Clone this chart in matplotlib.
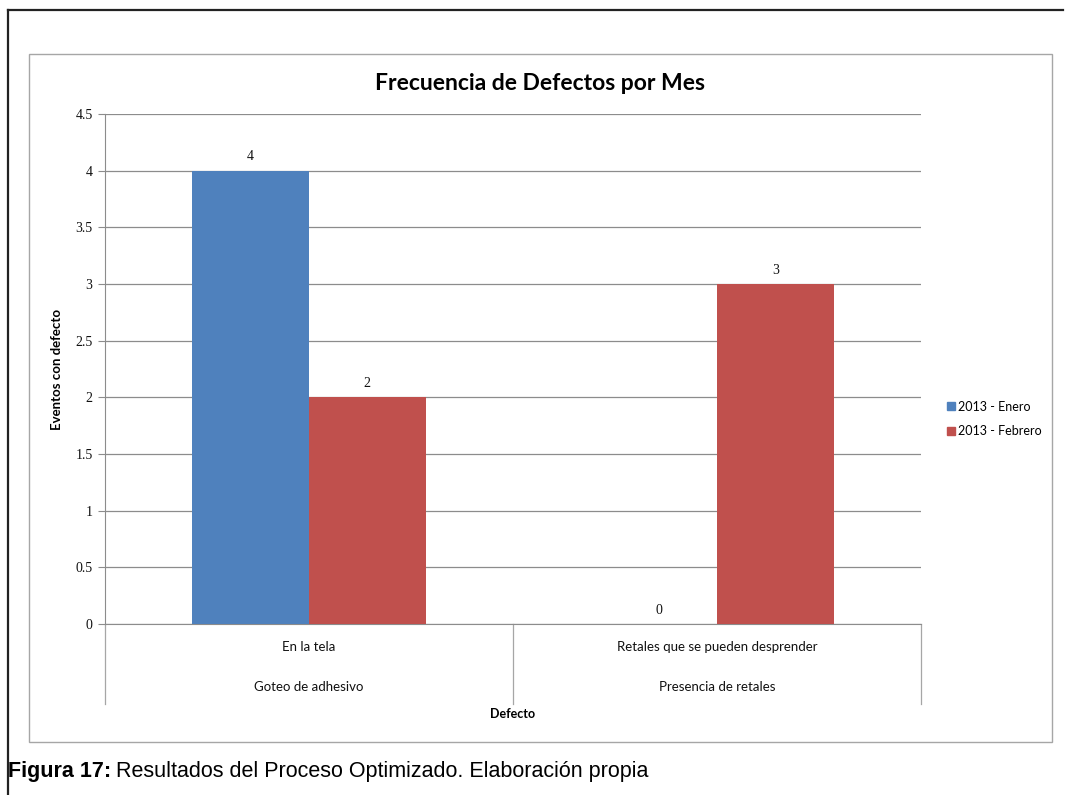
#!/usr/bin/env python3
"""Frecuencia de defectos por mes: barras agrupadas con eje de categorías en dos niveles."""

import matplotlib

matplotlib.use("Agg")
import matplotlib.pyplot as plt
import numpy as np
from matplotlib.lines import Line2D
from matplotlib.patches import Patch, Rectangle

# datos
defectos = ["En la tela", "Retales que se pueden desprender"]
grupos = ["Goteo de adhesivo", "Presencia de retales"]
series = ["2013 - Enero", "2013 - Febrero"]
enero = [4, 0]
febrero = [2, 3]
y_ticks = [0, 0.5, 1, 1.5, 2, 2.5, 3, 3.5, 4, 4.5]

BLUE = "#4F81BD"
RED = "#C0504D"
GRID = "#8c8c8c"
SANS = ["Lato", "DejaVu Sans"]
SERIF = ["Liberation Serif", "DejaVu Serif"]

W, H = 1065, 795
fig = plt.figure(figsize=(W / 100, H / 100), dpi=100)


def fx(px):
    return px / W


def fy(py):
    return 1 - py / H


# marco exterior (solo izquierda y arriba) y borde gris del gráfico
fig.add_artist(Line2D([fx(8), fx(8)], [fy(10), 0], color="#222222", lw=1.6,
                      transform=fig.transFigure))
fig.add_artist(Line2D([fx(8), fx(1063)], [fy(10), fy(10)], color="#222222", lw=1.6,
                      transform=fig.transFigure))
fig.add_artist(Rectangle((fx(29), fy(742)), fx(1052) - fx(29), fy(54) - fy(742),
                         fill=False, edgecolor="#a6a6a6", lw=1.0,
                         transform=fig.transFigure))

ax = fig.add_axes([fx(105), fy(624), fx(921) - fx(105), fy(114) - fy(624)])

x = np.arange(len(defectos))
w = 1 / 3.5
b1 = ax.bar(x - w / 2, enero, w, color=BLUE, zorder=3)
b2 = ax.bar(x + w / 2, febrero, w, color=RED, zorder=3)

for bars, vals in ((b1, enero), (b2, febrero)):
    for rect, v in zip(bars, vals):
        ax.annotate(f"{v:g}", (rect.get_x() + rect.get_width() / 2, v),
                    xytext=(0, 14), textcoords="offset pixels", ha="center",
                    va="center", fontsize=10, family=SERIF, color="#111111")

ax.set_xlim(-0.5, len(defectos) - 0.5)
ax.set_ylim(0, 4.5)
ax.set_yticks(y_ticks)
ax.set_yticklabels([f"{t:g}" for t in y_ticks], family=SERIF, fontsize=10,
                   color="#111111")
ax.tick_params(axis="y", length=5, width=0.8, color=GRID, pad=4)
ax.set_xticks([])
ax.grid(axis="y", color=GRID, lw=0.9, zorder=0)

for side in ("top", "right"):
    ax.spines[side].set_visible(False)
ax.spines["left"].set_color(GRID)
ax.spines["bottom"].set_color(GRID)
ax.spines["left"].set_bounds(0, 4.5)

# eje de categorías en dos niveles
tr = ax.get_xaxis_transform()
for xd in (-0.5, 0.5, 1.5):
    ax.add_line(Line2D([xd, xd], [0, -0.157], color="#a6a6a6", lw=0.9,
                       transform=tr, clip_on=False))
for xi, (d, g) in enumerate(zip(defectos, grupos)):
    ax.text(xi, -0.045, d, transform=tr, ha="center", va="center",
            fontsize=9.5, family=SANS, color="#111111")
    ax.text(xi, -0.123, g, transform=tr, ha="center", va="center",
            fontsize=9.5, family=SANS, color="#111111")

ax.text(0.5, -0.177, "Defecto", transform=ax.transAxes, ha="center", va="center",
        fontsize=9, family=SANS, weight="bold")
fig.text(fx(57), fy(369), "Eventos con defecto", rotation=90, ha="center",
         va="center", fontsize=9.5, family=SANS, weight="bold")
fig.text(fx(540), fy(84), "Frecuencia de Defectos por Mes", ha="center",
         va="center", fontsize=16.5, family=SANS, weight="bold")

handles = [Patch(color=BLUE), Patch(color=RED)]
fig.legend(handles, series, loc="center left",
           bbox_to_anchor=(fx(936), fy(419)), frameon=False,
           prop={"family": SANS, "size": 9}, handlelength=0.6,
           handleheight=0.6, handletextpad=0.3, labelspacing=1.0)

# pie de figura: la parte en negrita se mide para colocar el resto a continuación
cap_bold = fig.text(fx(8), fy(771), "Figura 17:", ha="left", va="center",
                    fontsize=15.5, family="Liberation Sans", weight="bold")
fig.canvas.draw()
bold_end = cap_bold.get_window_extent().x1
fig.text((bold_end + 5) / W, fy(771),
         "Resultados del Proceso Optimizado. Elaboración propia",
         ha="left", va="center", fontsize=15.5, family="Liberation Sans")

fig.savefig("out.png", dpi=100)
